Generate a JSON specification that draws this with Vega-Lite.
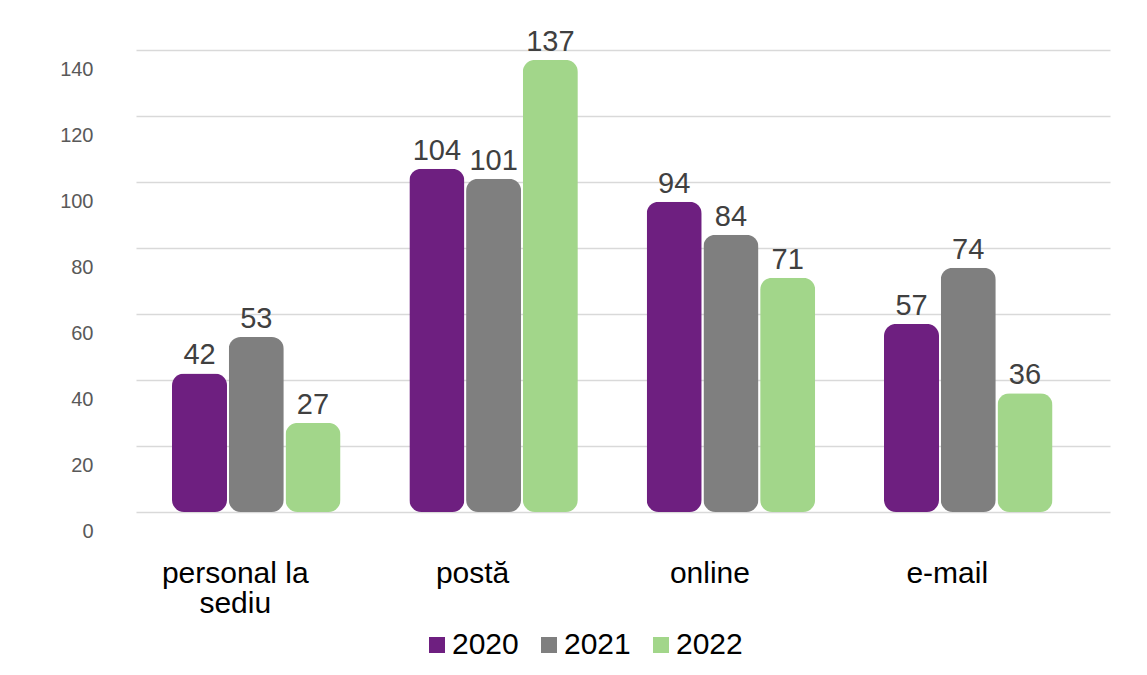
{
  "$schema": "https://vega.github.io/schema/vega-lite/v6.json",
  "autosize": {"type": "none"},
  "padding": {"left": 136, "top": 50, "right": 37, "bottom": 163},
  "width": 974,
  "height": 462,
  "background": "white",
  "config": {
    "view": {"stroke": null},
    "font": "Liberation Sans"
  },
  "data": {
    "values": [
      {"canal": "personal la sediu", "an": "2020", "valoare": 42},
      {"canal": "personal la sediu", "an": "2021", "valoare": 53},
      {"canal": "personal la sediu", "an": "2022", "valoare": 27},
      {"canal": "postă", "an": "2020", "valoare": 104},
      {"canal": "postă", "an": "2021", "valoare": 101},
      {"canal": "postă", "an": "2022", "valoare": 137},
      {"canal": "online", "an": "2020", "valoare": 94},
      {"canal": "online", "an": "2021", "valoare": 84},
      {"canal": "online", "an": "2022", "valoare": 71},
      {"canal": "e-mail", "an": "2020", "valoare": 57},
      {"canal": "e-mail", "an": "2021", "valoare": 74},
      {"canal": "e-mail", "an": "2022", "valoare": 36}
    ]
  },
  "encoding": {
    "x": {
      "field": "canal",
      "type": "nominal",
      "sort": ["personal la sediu", "postă", "online", "e-mail"],
      "scale": {"paddingInner": 0.29, "paddingOuter": 0.197, "align": 0.385},
      "axis": {
        "title": null,
        "domain": false,
        "ticks": false,
        "labelAngle": 0,
        "labelFontSize": 30,
        "labelColor": "#000000",
        "labelPadding": 46,
        "labelOffset": -21,
        "labelLineHeight": 30,
        "labelBaseline": "top",
        "labelExpr": "datum.value == 'personal la sediu' ? ['personal la', 'sediu'] : datum.label"
      }
    },
    "xOffset": {
      "field": "an",
      "type": "nominal",
      "scale": {"paddingInner": 0.03}
    },
    "y": {
      "field": "valoare",
      "type": "quantitative",
      "scale": {"domain": [0, 140], "nice": false},
      "axis": {
        "title": null,
        "values": [0, 20, 40, 60, 80, 100, 120, 140],
        "domain": false,
        "ticks": false,
        "labelFontSize": 20,
        "labelColor": "#595959",
        "labelPadding": 43,
        "labelOffset": 19,
        "gridColor": "#d9d9d9",
        "gridWidth": 1.5
      }
    }
  },
  "layer": [
    {
      "mark": {"type": "bar", "cornerRadius": 12},
      "encoding": {
        "color": {
          "field": "an",
          "type": "nominal",
          "scale": {"domain": ["2020", "2021", "2022"], "range": ["#6e1f80", "#7f7f7f", "#a2d68a"]},
          "legend": {
            "title": null,
            "orient": "none",
            "direction": "horizontal",
            "legendX": 286,
            "legendY": 580,
            "symbolType": "square",
            "symbolSize": 256,
            "symbolStrokeWidth": 0,
            "labelFontSize": 30,
            "labelColor": "#000000",
            "labelOffset": 0,
            "columnPadding": 15
          }
        }
      }
    },
    {
      "mark": {"type": "text", "baseline": "alphabetic", "dy": -9, "fontSize": 29, "color": "#404040"},
      "encoding": {
        "text": {"field": "valoare", "type": "quantitative"}
      }
    }
  ]
}
